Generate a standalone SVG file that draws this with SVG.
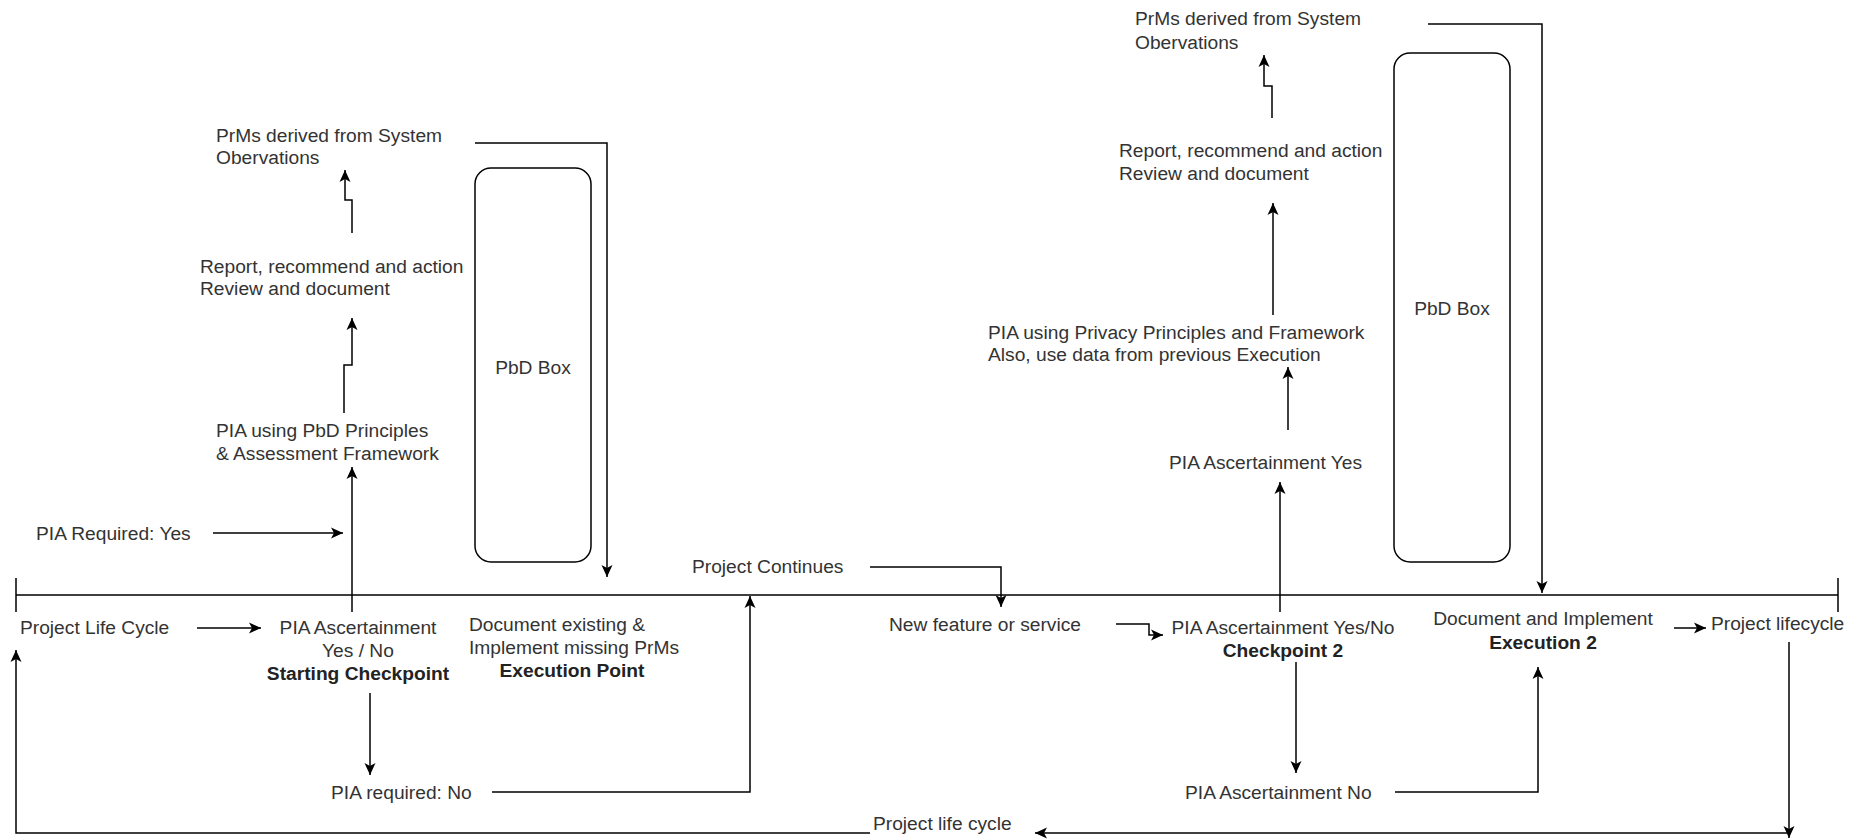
<svg xmlns="http://www.w3.org/2000/svg" width="1861" height="840" viewBox="0 0 1861 840">
<style>
text{font-family:"Liberation Sans",Arial,sans-serif;font-size:19.2px;fill:#333}
.b{font-weight:bold;fill:#222}
.m{text-anchor:middle}
.c{fill:none;stroke:#000;stroke-width:1.5}
.a{marker-end:url(#ah)}
.box{fill:#fff;stroke:#000;stroke-width:1.5}
</style>
<defs>
<marker id="ah" markerUnits="userSpaceOnUse" markerWidth="14" markerHeight="12" refX="12" refY="5.5" orient="auto" overflow="visible">
<path d="M0,0 L12,5.5 L0,11 L3,5.5 Z" fill="#000"/>
</marker>
</defs>
<rect width="1861" height="840" fill="#fff"/>
<g id="connectors">
<path class="c" d="M16,595 H1838 M16,578 V612 M1838,578 V612"/>
<path class="c a" d="M475,143 H607 V577"/>
<path class="c a" d="M352,233 V200 H345 V170"/>
<path class="c a" d="M344,413 V365 H352 V318"/>
<path class="c a" d="M352,612 V467"/>
<path class="c a" d="M213,533 H343"/>
<path class="c a" d="M197,628 H261"/>
<path class="c a" d="M370,693 V775"/>
<path class="c a" d="M492,792 H750 V596"/>
<path class="c a" d="M870,567 H1001 V607"/>
<path class="c a" d="M1116,624 H1149 V635 H1163"/>
<path class="c a" d="M1280,612 V482"/>
<path class="c a" d="M1288,430 V367"/>
<path class="c a" d="M1273,315 V203"/>
<path class="c a" d="M1272,118 V86 H1264 V55"/>
<path class="c a" d="M1428,24 H1542 V593"/>
<path class="c a" d="M1296,662 V773"/>
<path class="c a" d="M1395,792 H1538 V667"/>
<path class="c a" d="M1674,628 H1706"/>
<path class="c a" d="M1789,642 V838"/>
<path class="c a" d="M1789,833 H1035"/>
<path class="c a" d="M870,833 H16 V650"/>
</g>
<g id="prms1"><text x="216" y="142">PrMs derived from System</text><text x="216" y="164">Obervations</text></g>
<g id="report1"><text x="200" y="273">Report, recommend and action</text><text x="200" y="295">Review and document</text></g>
<g id="pia-pbd"><text x="216" y="437">PIA using PbD Principles</text><text x="216" y="460">&amp; Assessment Framework</text></g>
<g id="pbd1"><rect class="box" x="475" y="168" width="116" height="394" rx="16"/><text class="m" x="533" y="374">PbD Box</text></g>
<g id="pia-yes"><text x="36" y="540">PIA Required: Yes</text></g>
<g id="plc-start"><text x="20" y="634">Project Life Cycle</text></g>
<g id="start-check"><text class="m" x="358" y="634">PIA Ascertainment</text><text class="m" x="358" y="657">Yes / No</text><text class="m b" x="358" y="680">Starting Checkpoint</text></g>
<g id="pia-no"><text x="331" y="799">PIA required: No</text></g>
<g id="exec1"><text x="469" y="631">Document existing &amp;</text><text x="469" y="654">Implement missing PrMs</text><text class="m b" x="572" y="677">Execution Point</text></g>
<g id="continues"><text x="692" y="573">Project Continues</text></g>
<g id="newfeature"><text x="889" y="631">New feature or service</text></g>
<g id="check2"><text class="m" x="1283" y="634">PIA Ascertainment Yes/No</text><text class="m b" x="1283" y="657">Checkpoint 2</text></g>
<g id="asc-yes"><text x="1169" y="469">PIA Ascertainment Yes</text></g>
<g id="pia-privacy"><text x="988" y="339">PIA using Privacy Principles and Framework</text><text x="988" y="361">Also, use data from previous Execution</text></g>
<g id="report2"><text x="1119" y="157">Report, recommend and action</text><text x="1119" y="180">Review and document</text></g>
<g id="prms2"><text x="1135" y="25">PrMs derived from System</text><text x="1135" y="49">Obervations</text></g>
<g id="pbd2"><rect class="box" x="1394" y="53" width="116" height="509" rx="16"/><text class="m" x="1452" y="315">PbD Box</text></g>
<g id="exec2"><text class="m" x="1543" y="625">Document and Implement</text><text class="m b" x="1543" y="649">Execution 2</text></g>
<g id="plc-end"><text x="1711" y="630">Project lifecycle</text></g>
<g id="asc-no"><text x="1185" y="799">PIA Ascertainment No</text></g>
<g id="plc-loop"><text x="873" y="830">Project life cycle</text></g>
</svg>
